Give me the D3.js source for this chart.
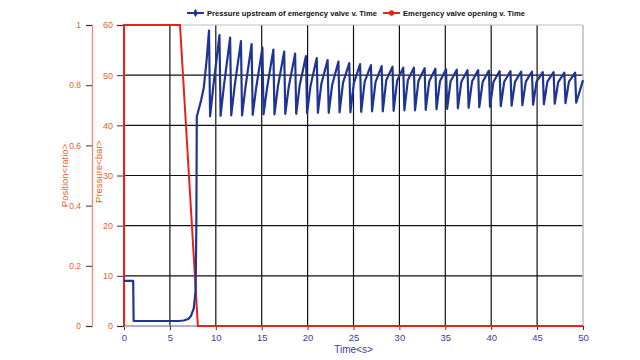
<!DOCTYPE html>
<html>
<head>
<meta charset="utf-8">
<script src="https://cdn.jsdelivr.net/npm/d3@7"></script>
<style>
  body { margin: 0; background: #fff; }
  text { font-family: "Liberation Sans", Arial, sans-serif; }
</style>
</head>
<body>
<div id="chart"></div>
<script>
// Data
var timeTicks = [0, 5, 10, 15, 20, 25, 30, 35, 40, 45, 50];
var pressureTicks = [0, 10, 20, 30, 40, 50, 60];
var positionTicks = [0, 0.2, 0.4, 0.6, 0.8, 1];

// Emergency valve opening (position ratio) v. time
var valveTime     = [0, 0, 6.1, 8.05, 50];
var valvePosition = [0, 1, 1,   0,    0];

// Pressure upstream of emergency valve v. time [t, bar]
var pressurePoints = [
  [0, 9], [1.0, 9], [1.05, 1], [6.0, 1], [6.5, 1.1], [7.0, 1.4], [7.3, 2], [7.6, 3.5],
  [7.8, 7], [7.88, 20], [7.93, 41.7], [8.4, 45], [8.7, 47.6], [9.0, 53], [9.26, 58.9],
  [9.38, 41.8], [9.76, 48.3], [10.40, 58.0],
  [10.52, 41.9], [10.90, 48.1], [11.56, 57.5],
  [11.68, 42.0], [12.06, 47.9], [12.74, 56.8],
  [12.86, 42.0], [13.24, 47.7], [13.90, 56.2],
  [14.02, 42.1], [14.40, 47.5], [15.08, 55.5],
  [15.20, 42.2], [15.58, 47.4], [16.27, 55.1],
  [16.39, 42.2], [16.77, 47.8], [17.45, 54.7],
  [17.57, 42.3], [17.95, 47.7], [18.64, 54.3],
  [18.76, 42.3], [19.14, 48.0], [19.82, 53.8],
  [19.94, 42.4], [20.32, 47.9], [21.00, 53.4],
  [21.12, 42.5], [21.50, 48.3], [22.18, 53.0],
  [22.30, 42.5], [22.68, 48.1], [23.36, 52.7],
  [23.48, 42.6], [23.86, 48.5], [24.54, 52.4],
  [24.66, 42.6], [25.04, 48.4], [25.72, 52.2],
  [25.84, 42.7], [26.22, 48.7], [26.90, 52.0],
  [27.02, 42.8], [27.40, 48.6], [28.07, 51.8],
  [28.19, 42.8], [28.57, 49.0], [29.25, 51.7],
  [29.37, 42.9], [29.75, 48.9], [30.42, 51.5],
  [30.54, 43.0], [30.92, 49.0], [31.58, 51.5],
  [31.70, 43.0], [32.08, 48.9], [32.75, 51.4],
  [32.87, 43.1], [33.25, 48.8], [33.92, 51.3],
  [34.04, 43.2], [34.42, 48.8], [35.08, 51.2],
  [35.20, 43.3], [35.58, 48.8], [36.25, 51.1],
  [36.37, 43.4], [36.75, 48.7], [37.42, 51.0],
  [37.54, 43.5], [37.92, 48.8], [38.58, 51.0],
  [38.70, 43.6], [39.08, 48.7], [39.75, 50.9],
  [39.87, 43.7], [40.25, 48.7], [40.92, 50.8],
  [41.04, 43.8], [41.42, 48.7], [42.10, 50.8],
  [42.22, 43.9], [42.60, 48.7], [43.27, 50.7],
  [43.39, 44.0], [43.77, 48.7], [44.44, 50.7],
  [44.56, 44.1], [44.94, 48.7], [45.62, 50.6],
  [45.74, 44.2], [46.12, 48.7], [46.80, 50.6],
  [46.92, 44.3], [47.30, 48.6], [47.97, 50.5],
  [48.09, 44.4], [48.47, 48.7], [49.14, 50.5],
  [49.26, 44.5], [50.0, 49.0]
];

var seriesNames = ["Pressure upstream of emergency valve v. Time", "Emergency valve opening v. Time"];

// Setup
var svgWidth = 640;
var svgHeight = 360;
var margin = { top: 25, right: 57, bottom: 34, left: 124 };
var width = svgWidth - margin.left - margin.right;
var height = svgHeight - margin.top - margin.bottom;

var orange = "#e8602c";
var blue = "#1f3591";
var red = "#e3231c";
var tickBlue = "#3a3d9a";

var svg = d3.select("#chart")
  .append("svg")
  .attr("width", svgWidth)
  .attr("height", svgHeight);

var chartGroup = svg.append("g")
  .attr("transform", `translate(${margin.left}, ${margin.top})`);

// Scales
var xScale = d3.scaleLinear().domain([0, 50]).range([0, width]);
var yPressure = d3.scaleLinear().domain([0, 60]).range([height, 0]);
var yPosition = d3.scaleLinear().domain([0, 1]).range([height, 0]);

// Gridlines
chartGroup.selectAll(".vgrid")
  .data(timeTicks.filter(d => d > 0 && d < 50))
  .enter().append("line")
  .attr("x1", d => xScale(d)).attr("x2", d => xScale(d))
  .attr("y1", 0).attr("y2", height)
  .attr("stroke", "#111").attr("stroke-width", 1.2);

chartGroup.selectAll(".hgrid")
  .data(pressureTicks.filter(d => d > 0 && d < 60))
  .enter().append("line")
  .attr("x1", 0).attr("x2", width)
  .attr("y1", d => yPressure(d)).attr("y2", d => yPressure(d))
  .attr("stroke", "#111").attr("stroke-width", 1.2);

// frame: top and right in light grey, bottom bluish
chartGroup.append("line")
  .attr("x1", 0).attr("x2", width).attr("y1", 0).attr("y2", 0)
  .attr("stroke", "#bdbdbd").attr("stroke-width", 1.2);
chartGroup.append("line")
  .attr("x1", width).attr("x2", width).attr("y1", 0).attr("y2", height)
  .attr("stroke", "#bdbdbd").attr("stroke-width", 1.5);
chartGroup.append("line")
  .attr("x1", 0).attr("x2", width).attr("y1", height).attr("y2", height)
  .attr("stroke", "#8d97c4").attr("stroke-width", 1.5);

// Bottom axis
var bottomAxis = d3.axisBottom(xScale).tickValues(timeTicks).tickSize(4).tickPadding(4);
var gx = chartGroup.append("g")
  .attr("transform", `translate(0, ${height})`)
  .call(bottomAxis);
gx.select(".domain").remove();
gx.selectAll(".tick line").attr("stroke", "#333");
gx.selectAll(".tick text").attr("fill", tickBlue).style("font-size", "9.5px");

chartGroup.append("text")
  .attr("x", xScale(25))
  .attr("y", height + 27)
  .attr("text-anchor", "middle")
  .attr("fill", tickBlue)
  .style("font-size", "10px")
  .text("Time<s>");

// Pressure axis (inner left)
var pressureAxis = d3.axisLeft(yPressure).tickValues(pressureTicks).tickSize(7).tickPadding(4);
var gp = chartGroup.append("g").call(pressureAxis);
gp.select(".domain").attr("stroke", "#e2907a").attr("stroke-width", 1.3);
gp.selectAll(".tick line").attr("stroke", "#333");
gp.selectAll(".tick text").attr("fill", orange).style("font-size", "9px");

chartGroup.append("text")
  .attr("transform", `translate(-22.5, ${height / 2 - 4}) rotate(-90)`)
  .attr("text-anchor", "middle")
  .attr("fill", orange)
  .style("font-size", "9.5px")
  .text("Pressure<bar>");

// Position axis (outer left)
var positionAxis = d3.axisLeft(yPosition).tickValues(positionTicks).tickSize(6).tickPadding(5)
  .tickFormat(d3.format("~g"));
var gq = chartGroup.append("g")
  .attr("transform", "translate(-32, 0)")
  .call(positionAxis);
gq.select(".domain").attr("stroke", "#e2907a").attr("stroke-width", 1.3);
gq.selectAll(".tick line").attr("stroke", "#333");
gq.selectAll(".tick text").attr("fill", orange).style("font-size", "8.5px");

chartGroup.append("text")
  .attr("transform", `translate(-56.5, ${height / 2}) rotate(-90)`)
  .attr("text-anchor", "middle")
  .attr("fill", orange)
  .style("font-size", "9.5px")
  .text("Position<ratio>");

// Series lines
var pressureLine = d3.line()
  .x(d => xScale(d[0]))
  .y(d => yPressure(d[1]));

var valveLine = d3.line()
  .x(d => xScale(d.t))
  .y(d => yPosition(d.v));

var valveData = valveTime.map((t, i) => ({ t: t, v: valvePosition[i] }));

chartGroup.append("path")
  .datum(valveData)
  .attr("d", valveLine)
  .attr("fill", "none")
  .attr("stroke", red)
  .attr("stroke-width", 2);

chartGroup.append("path")
  .datum(pressurePoints)
  .attr("d", pressureLine)
  .attr("fill", "none")
  .attr("stroke", blue)
  .attr("stroke-width", 2.2)
  .attr("stroke-linejoin", "round");

// Legend
var legend = svg.append("g").attr("transform", "translate(187, 13)");
var legendItems = [
  { name: seriesNames[0], color: blue, x: 0, len: 170, marker: "diamond" },
  { name: seriesNames[1], color: red, x: 196, len: 122, marker: "circle" }
];
legendItems.forEach(function (item) {
  var g = legend.append("g").attr("transform", `translate(${item.x}, 0)`);
  g.append("line")
    .attr("x1", 0).attr("x2", 17).attr("y1", 0).attr("y2", 0)
    .attr("stroke", item.color).attr("stroke-width", 2);
  g.append("path")
    .attr("transform", "translate(8.5, 0)")
    .attr("d", d3.symbol().type(item.marker === "circle" ? d3.symbolCircle : d3.symbolDiamond).size(22))
    .attr("fill", item.color);
  g.append("text")
    .attr("x", 20)
    .attr("y", 3)
    .attr("fill", "#111")
    .attr("textLength", item.len)
    .attr("lengthAdjust", "spacingAndGlyphs")
    .style("font-size", "8px")
    .style("font-weight", "bold")
    .text(item.name);
});
</script>
</body>
</html>
